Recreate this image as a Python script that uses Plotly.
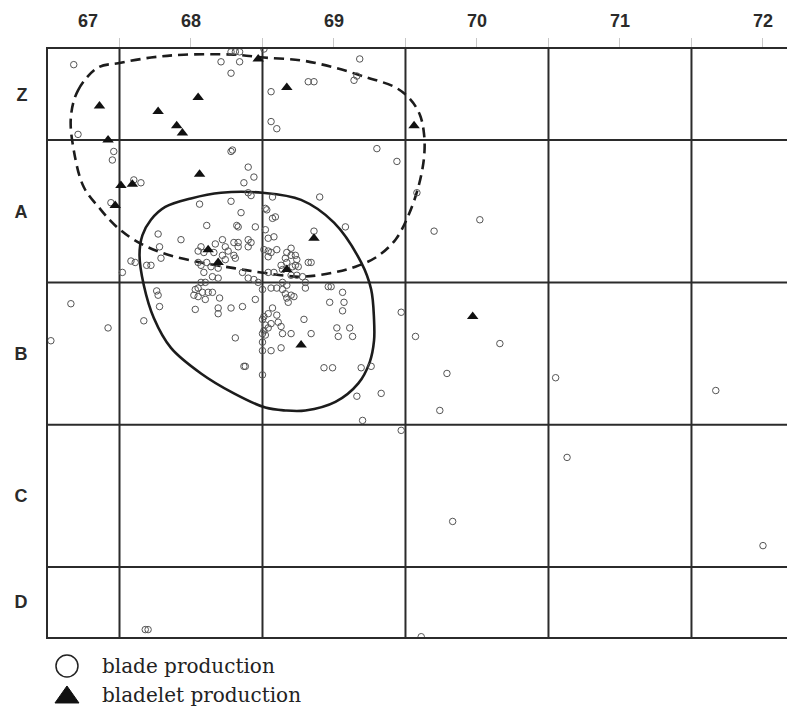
import plotly.graph_objects as go

# ---- axis labels ----
col_labels = ["67", "68", "69", "70", "71", "72"]
row_labels = ["Z", "A", "B", "C", "D"]

# ---- blade production (open circles) ----
blade_x = [
    67.18, 68.28, 68.31, 68.34, 68.51, 68.21, 68.34, 68.28, 69.18, 69.16,
    69.14, 68.82, 68.86, 68.56, 68.56, 68.60, 67.21, 67.46, 67.45, 68.28,
    68.29, 69.30, 69.44, 67.60, 67.65, 68.40, 68.44, 68.37, 69.58, 69.70,
    70.02, 67.44, 68.06, 68.11, 67.77, 67.93, 67.78, 67.79, 67.58, 67.61,
    67.69, 67.72, 67.52, 68.07, 68.17, 68.05, 68.09, 68.16, 68.05, 68.07,
    68.11, 68.14, 68.19, 68.09, 68.15, 68.19, 68.07, 68.10, 68.05, 68.28,
    68.40, 68.42, 68.57, 68.52, 68.53, 68.59, 68.57, 68.35, 68.32, 68.33,
    68.45, 68.52, 68.22, 68.30, 68.33, 68.40, 68.42, 68.24, 68.33, 68.40,
    68.26, 68.30, 68.22, 68.24, 68.31, 68.54, 68.58, 68.51, 68.54, 68.56,
    68.60, 68.54, 68.67, 68.70, 68.70, 68.73, 68.74, 68.66, 68.67, 68.63,
    68.64, 68.71, 68.73, 68.75, 68.70, 68.74, 68.78, 68.82, 68.80, 68.40,
    68.44, 68.47, 68.36, 68.54, 68.58, 68.64, 68.67, 68.90, 69.08, 68.86,
    68.84, 68.98, 67.76, 67.77, 67.78, 67.67, 68.03, 68.08, 68.12, 68.15,
    68.02, 68.05, 68.10, 68.03, 68.19, 68.19, 68.20, 68.28, 68.36, 68.45,
    68.50, 68.56, 68.60, 68.64, 68.66, 68.70, 68.72, 68.67, 68.68, 68.80,
    68.57, 68.54, 68.51, 68.50, 68.52, 68.51, 68.54, 68.56, 68.60, 68.61,
    68.63, 68.64, 68.50, 68.52, 68.50, 68.31, 68.50, 68.56, 68.63, 68.70,
    68.79, 68.84, 68.37, 68.38, 68.50, 68.96, 69.06, 68.97, 69.07, 69.06,
    69.02, 69.03, 69.11, 69.13, 69.47, 68.93, 68.99, 69.19, 69.26, 67.16,
    67.42, 67.02, 69.16, 69.33, 69.20, 69.47, 69.57, 70.16, 69.79, 69.74,
    70.55, 71.67, 70.63, 69.83, 72.00, 67.68, 67.70, 69.61,
]
blade_y = [
    -0.53, -0.62, -0.62, -0.62, -0.64, -0.55, -0.55, -0.47, -0.57, -0.45,
    -0.42, -0.41, -0.41, -0.34, -0.13, -0.08, -0.04, 0.08, 0.14, 0.08,
    0.07, 0.06, 0.15, 0.28, 0.30, 0.19, 0.26, 0.30, 0.37, 0.64,
    0.56, 0.44, 0.45, 0.60, 0.66, 0.70, 0.75, 0.83, 0.85, 0.86,
    0.88, 0.88, 0.93, 0.75, 0.73, 0.78, 0.79, 0.79, 0.86, 0.88,
    0.86, 0.89, 0.90, 0.93, 0.96, 0.97, 1.00, 1.00, 1.04, 0.43,
    0.37, 0.39, 0.40, 0.48, 0.49, 0.54, 0.55, 0.51, 0.60, 0.61,
    0.61, 0.63, 0.70, 0.72, 0.72, 0.70, 0.72, 0.75, 0.75, 0.75,
    0.78, 0.81, 0.81, 0.84, 0.83, 0.69, 0.68, 0.77, 0.78, 0.79,
    0.77, 0.82, 0.79, 0.81, 0.76, 0.81, 0.84, 0.83, 0.86, 0.88,
    0.91, 0.89, 0.88, 0.89, 0.95, 0.95, 0.96, 0.86, 1.00, 0.97,
    0.98, 1.00, 0.93, 0.93, 0.93, 1.00, 1.02, 0.40, 0.61, 0.64,
    0.86, 1.03, 1.06, 1.09, 1.17, 1.27, 1.05, 1.07, 1.07, 1.07,
    1.09, 1.10, 1.12, 1.19, 1.18, 1.22, 1.11, 1.18, 1.17, 1.12,
    1.05, 1.04, 1.04, 1.05, 1.08, 1.09, 1.10, 1.11, 1.14, 1.04,
    1.18, 1.22, 1.24, 1.26, 1.30, 1.34, 1.32, 1.29, 1.23, 1.28,
    1.31, 1.36, 1.36, 1.37, 1.42, 1.39, 1.48, 1.48, 1.46, 1.36,
    1.26, 1.36, 1.59, 1.59, 1.65, 1.03, 1.07, 1.14, 1.14, 1.20,
    1.32, 1.38, 1.32, 1.38, 1.21, 1.60, 1.60, 1.60, 1.59, 1.15,
    1.32, 1.41, 1.80, 1.78, 1.97, 2.04, 1.38, 1.43, 1.64, 1.90,
    1.67, 1.76, 2.23, 2.68, 2.85, 3.44, 3.44, 3.49,
]

# ---- bladelet production (filled triangles) ----
bladelet_x = [68.47, 68.67, 67.36, 67.77, 68.05, 67.90, 67.94, 67.42, 68.06, 67.51,
              67.59, 67.47, 68.12, 68.86, 68.19, 68.67, 69.56, 69.97, 68.77]
bladelet_y = [-0.57, -0.37, -0.24, -0.20, -0.30, -0.10, -0.05, 0.00, 0.24, 0.32,
              0.31, 0.46, 0.77, 0.69, 0.86, 0.91, -0.10, 1.24, 1.44]

# ---- concentration outlines ----
blade_zone_x = [68.50, 68.77, 69.00, 69.19, 69.26, 69.28, 69.28, 69.25, 69.17, 69.01,
                68.80, 68.66, 68.52, 68.30, 68.07, 67.86, 67.74, 67.67, 67.64, 67.66,
                67.72, 67.82, 68.00, 68.21, 68.50]
blade_zone_y = [0.37, 0.42, 0.58, 0.86, 1.05, 1.26, 1.41, 1.56, 1.71, 1.84,
                1.90, 1.90, 1.88, 1.78, 1.64, 1.46, 1.25, 1.02, 0.81, 0.67,
                0.56, 0.47, 0.41, 0.37, 0.37]
bladelet_zone_x = [67.16, 67.21, 67.35, 67.49, 67.72, 67.95, 68.30, 68.51, 68.77, 69.00,
                   69.23, 69.43, 69.53, 69.60, 69.63, 69.63, 69.59, 69.52, 69.43, 69.30,
                   69.15, 69.00, 68.77, 68.49, 68.30, 68.07, 67.79, 67.60, 67.47, 67.37,
                   67.25, 67.18, 67.16]
bladelet_zone_y = [-0.16, -0.35, -0.51, -0.54, -0.58, -0.60, -0.60, -0.58, -0.56, -0.51,
                   -0.44, -0.37, -0.29, -0.18, -0.04, 0.12, 0.33, 0.53, 0.70, 0.82,
                   0.89, 0.93, 0.96, 0.93, 0.90, 0.86, 0.79, 0.70, 0.60, 0.49,
                   0.33, 0.07, -0.16]

# ---- layout geometry ----
col_label_pos = [67.28, 68, 69, 70, 71, 72]
row_label_pos = [-0.32, 0.5, 1.5, 2.5, 3.245]
grid_x = [67.5, 68.5, 69.5, 70.5, 71.5]
grid_y = [0, 1, 2, 3]
x_range = [67.0, 72.224]
y_range = [3.492, -0.640]

GRID = "#2b2b2b"
fig = go.Figure()

fig.add_trace(go.Scatter(
    x=bladelet_zone_x, y=bladelet_zone_y, mode="lines",
    line=dict(color="#1c1c1c", width=2.6, dash="10px,6px", shape="spline", smoothing=1),
    hoverinfo="skip", showlegend=False))
fig.add_trace(go.Scatter(
    x=blade_zone_x, y=blade_zone_y, mode="lines",
    line=dict(color="#1c1c1c", width=2.6, shape="spline", smoothing=1),
    hoverinfo="skip", showlegend=False))
fig.add_trace(go.Scatter(
    x=blade_x, y=blade_y, mode="markers", name="blade production",
    marker=dict(symbol="circle-open", size=6.5, color="#555555", line=dict(width=1)),
    showlegend=False))
fig.add_trace(go.Scatter(
    x=bladelet_x, y=bladelet_y, mode="markers", name="bladelet production",
    marker=dict(symbol="triangle-up", size=10, color="#111111"),
    showlegend=False))

shapes = []
for gx in grid_x:
    shapes.append(dict(type="line", xref="x", yref="paper", x0=gx, x1=gx, y0=0, y1=1,
                       line=dict(color=GRID, width=2), layer="below"))
for gy in grid_y:
    shapes.append(dict(type="line", xref="paper", yref="y", x0=0, x1=1, y0=gy, y1=gy,
                       line=dict(color=GRID, width=2), layer="below"))

# legend keys (drawn in pixel size, anchored below the plot)
key_x = 0.0254
row1_y = -0.0493
row2_y = -0.0986
shapes.append(dict(type="circle", xref="paper", yref="paper",
                   xsizemode="pixel", ysizemode="pixel",
                   xanchor=key_x, yanchor=row1_y, x0=-11, x1=11, y0=-11, y1=11,
                   line=dict(color="#222222", width=1.5), fillcolor="rgba(0,0,0,0)"))
shapes.append(dict(type="path", xref="paper", yref="paper",
                   xsizemode="pixel", ysizemode="pixel",
                   xanchor=key_x, yanchor=row2_y,
                   path="M -12 -8 L 12 -8 L 0 9 Z",
                   line=dict(color="#111111", width=1), fillcolor="#111111"))

label_font = dict(family="Liberation Sans, Arial, sans-serif", size=18, color="#2a2a2a", weight="bold")
legend_font = dict(family="DejaVu Serif", size=20, color="#222222")

fig.update_layout(
    width=787, height=700,
    margin=dict(l=40, r=0, t=41, b=71),
    paper_bgcolor="white", plot_bgcolor="white",
    shapes=shapes,
    xaxis=dict(
        range=x_range, side="top", showgrid=False, zeroline=False,
        tickvals=col_label_pos, ticktext=col_labels, ticks="",
        tickfont=label_font, ticklabelstandoff=13,
        minor=dict(tickvals=[67.5, 68, 68.5, 69, 69.5, 70, 70.5, 71, 71.5, 72],
                   ticks="outside", ticklen=9, tickcolor="#c8c8c8", tickwidth=1, showgrid=False),
        showline=True, mirror=True, linecolor=GRID, linewidth=2,
    ),
    yaxis=dict(
        range=y_range, showgrid=False, zeroline=False,
        tickvals=row_label_pos, ticktext=row_labels, ticks="",
        tickfont=label_font, ticklabelstandoff=15,
        showline=True, mirror=False, linecolor=GRID, linewidth=2,
    ),
    annotations=[
        dict(xref="paper", yref="paper", x=0.0696, y=row1_y, text="blade production",
             showarrow=False, xanchor="left", yanchor="middle", font=legend_font),
        dict(xref="paper", yref="paper", x=0.0696, y=row2_y, text="bladelet production",
             showarrow=False, xanchor="left", yanchor="middle", font=legend_font),
    ],
)

fig.write_html("out.html")
